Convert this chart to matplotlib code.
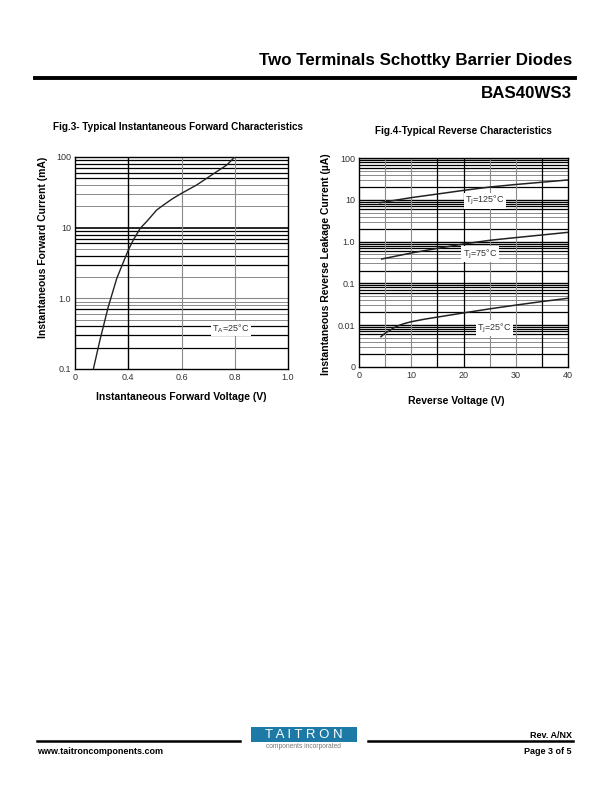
import numpy as np
import matplotlib
matplotlib.use("Agg")
import matplotlib.pyplot as plt
from matplotlib.patches import Rectangle

plt.rcParams['font.family'] = ['Liberation Sans', 'DejaVu Sans']

# --- Fig.3 dados (tensão direta x corrente) ---
vf = [0.269, 0.294, 0.325, 0.357, 0.40, 0.419, 0.445, 0.469, 0.507, 0.532, 0.565, 0.60, 0.657, 0.732,
      0.770, 0.80]
if_ma = [0.1, 0.26, 0.76, 1.92, 4.8, 6.7, 9.8, 12.2, 17.8, 20.9, 25.5, 30.6, 40.2, 62.0, 77.0, 100.0]
fig3_xticks = [0.2, 0.4, 0.6, 0.8, 1.0]
fig3_xlabels = ['0', '0.4', '0.6', '0.8', '1.0']
fig3_yticks = [0.1, 1.0, 10, 100]
fig3_ylabels = ['0.1', '1.0', '10', '100']

# --- Fig.4 dados (tensão reversa x corrente de fuga) ---
vr_125 = [3.97, 10.0, 15.0, 20.0, 25.1, 30.0, 40.0]
ir_125 = [8.6, 11.4, 13.9, 17.0, 20.5, 23.5, 30.2]
vr_75 = [4.3, 10.0, 15.0, 20.0, 25.1, 30.0, 40.0]
ir_75 = [0.384, 0.535, 0.69, 0.88, 1.08, 1.25, 1.67]
vr_25 = [4.16, 4.9, 5.9, 6.8, 7.8, 8.8, 10.0, 12.5, 15.0, 20.0, 25.1, 30.0, 35.0, 40.0]
ir_25 = [0.00525, 0.0063, 0.0075, 0.0088, 0.0100, 0.0110, 0.0120, 0.0138, 0.0155, 0.0195, 0.0245,
         0.0300, 0.0365, 0.0437]
fig4_xticks = [0, 10, 20, 30, 40]
fig4_yticks = [0.001, 0.01, 0.1, 1.0, 10, 100]
fig4_ylabels = ['0', '0.01', '0.1', '1.0', '10', '100']

BLACK = '#000000'
GRAY = '#8a8a8a'

fig = plt.figure(figsize=(6.12, 7.92), dpi=100)

# --- Cabeçalho ---
fig.text(572 / 612, 1 - 60 / 792, 'Two Terminals Schottky Barrier Diodes', ha='right', va='center',
         fontsize=12.2, fontweight='bold')
fig.add_artist(plt.Line2D([35 / 612, 575 / 612], [1 - 78 / 792] * 2, color='black', lw=2.8))
fig.text(572 / 612, 1 - 94 / 792, 'BAS40WS3', ha='right', va='center', fontsize=12.2, fontweight='bold')

# --- Fig.3 ---
ax1 = fig.add_axes([75 / 612, 1 - 369 / 792, 213 / 612, 212 / 792])
ax1.set_yscale('log')
ax1.set_xlim(0.2, 1.0)
ax1.set_ylim(0.1, 100)

# linhas de grade (algumas pretas, outras cinzas como no original)
dark3 = {1: [2, 3, 4, 7], 10: [3, 4, 6, 7, 8, 9], 100: [5, 6, 7, 8, 9]}
for dec, top in [(0.1, 1), (1, 10), (10, 100)]:
    for m in range(2, 10):
        c = BLACK if m in dark3[top] else GRAY
        ax1.axhline(dec * m, color=c, lw=0.9 if c == BLACK else 0.7, zorder=1)
ax1.axhline(10, color=BLACK, lw=1.2, zorder=1)
ax1.axhline(1.0, color=GRAY, lw=0.8, zorder=1)
ax1.axvline(0.4, color=BLACK, lw=1.0, zorder=1)
for v in [0.6, 0.8]:
    ax1.axvline(v, color=GRAY, lw=0.8, zorder=1)

ax1.plot(vf, if_ma, color='#222222', lw=1.0, zorder=3)
ax1.text(0.786, 0.37, 'T$_{\\mathrm{A}}$=25°C', fontsize=6.5, ha='center', va='center', color='#333333',
         bbox=dict(facecolor='white', edgecolor='none', pad=1.0), zorder=4)

ax1.set_xticks(fig3_xticks)
ax1.set_xticklabels(fig3_xlabels)
ax1.set_yticks(fig3_yticks)
ax1.set_yticklabels(fig3_ylabels)
ax1.yaxis.set_minor_locator(matplotlib.ticker.NullLocator())
ax1.tick_params(length=0, labelsize=6.5, colors='#333333', pad=3)
for s in ax1.spines.values():
    s.set_linewidth(1.0)
ax1.set_xlabel('Instantaneous Forward Voltage (V)', fontsize=7.5, fontweight='bold')
ax1.set_ylabel('Instantaneous Forward Current (mA)', fontsize=7.5, fontweight='bold')
ax1.xaxis.set_label_coords(0.5, -0.108)
ax1.yaxis.set_label_coords(-0.125, 0.575)
fig.text(178 / 612, 1 - 127 / 792, 'Fig.3- Typical Instantaneous Forward Characteristics', ha='center',
         va='center', fontsize=7.2, fontweight='bold')

# --- Fig.4 ---
ax2 = fig.add_axes([359.3 / 612, 1 - 366.7 / 792, 208.4 / 612, 208.4 / 792])
ax2.set_yscale('log')
ax2.set_xlim(0, 40)
ax2.set_ylim(0.001, 100)

for dec in [0.001, 0.01, 0.1, 1, 10]:
    for m in range(2, 10):
        c = GRAY if m in (3, 4, 5) else BLACK
        ax2.axhline(dec * m, color=c, lw=0.9 if c == BLACK else 0.7, zorder=1)
    ax2.axhline(dec * 10, color=BLACK, lw=1.0, zorder=1)
for v, c in [(5, GRAY), (10, GRAY), (15, BLACK), (20, BLACK), (25, GRAY), (30, GRAY), (35, BLACK)]:
    ax2.axvline(v, color=c, lw=0.9 if c == BLACK else 0.8, zorder=1)

ax2.plot(vr_125, ir_125, color='#222222', lw=1.1, zorder=3)
ax2.plot(vr_75, ir_75, color='#222222', lw=1.1, zorder=3)
ax2.plot(vr_25, ir_25, color='#222222', lw=1.1, zorder=3)
lbl = dict(fontsize=6.5, ha='center', va='center', color='#333333',
           bbox=dict(facecolor='white', edgecolor='none', pad=1.0), zorder=4)
ax2.text(24.1, 9.6, 'T$_{\\mathrm{J}}$=125°C', **lbl)
ax2.text(23.2, 0.5, 'T$_{\\mathrm{J}}$=75°C', **lbl)
ax2.text(26.0, 0.0083, 'T$_{\\mathrm{J}}$=25°C', **lbl)

ax2.set_xticks(fig4_xticks)
ax2.set_yticks(fig4_yticks)
ax2.set_yticklabels(fig4_ylabels)
ax2.yaxis.set_minor_locator(matplotlib.ticker.NullLocator())
ax2.tick_params(length=0, labelsize=6.5, colors='#333333', pad=3)
for s in ax2.spines.values():
    s.set_linewidth(1.0)
ax2.set_xlabel('Reverse Voltage (V)', fontsize=7.5, fontweight='bold')
ax2.set_ylabel('Instantaneous Reverse Leakage Current (µA)', fontsize=7.5, fontweight='bold')
ax2.xaxis.set_label_coords(0.467, -0.14)
ax2.yaxis.set_label_coords(-0.135, 0.49)
fig.text(463 / 612, 1 - 131 / 792, 'Fig.4-Typical Reverse Characteristics', ha='center',
         va='center', fontsize=7.2, fontweight='bold')

# --- Rodapé ---
fig.add_artist(plt.Line2D([37 / 612, 240 / 612], [1 - 741 / 792] * 2, color='black', lw=1.8))
fig.add_artist(plt.Line2D([368 / 612, 573 / 612], [1 - 741 / 792] * 2, color='black', lw=1.8))
fig.add_artist(Rectangle((250.7 / 612, 1 - 741.7 / 792), 106 / 612, 15 / 792,
                         transform=fig.transFigure, facecolor='#1d7aa6', edgecolor='none'))
fig.text(303.7 / 612, 1 - 734.5 / 792, 'T A I T R O N', ha='center', va='center', fontsize=9.5,
         color='white')
fig.text(303.7 / 612, 1 - 746.5 / 792, 'components incorporated', ha='center', va='center',
         fontsize=4.8, color='#777777')
fig.text(572 / 612, 1 - 735 / 792, 'Rev. A/NX', ha='right', va='center', fontsize=6.5, fontweight='bold')
fig.text(37 / 612, 1 - 752 / 792, 'www.taitroncomponents.com', ha='left', va='center', fontsize=6.5,
         fontweight='bold')
fig.text(572 / 612, 1 - 752 / 792, 'Page 3 of 5', ha='right', va='center', fontsize=6.5, fontweight='bold')

fig.savefig('out.png', dpi=100)
